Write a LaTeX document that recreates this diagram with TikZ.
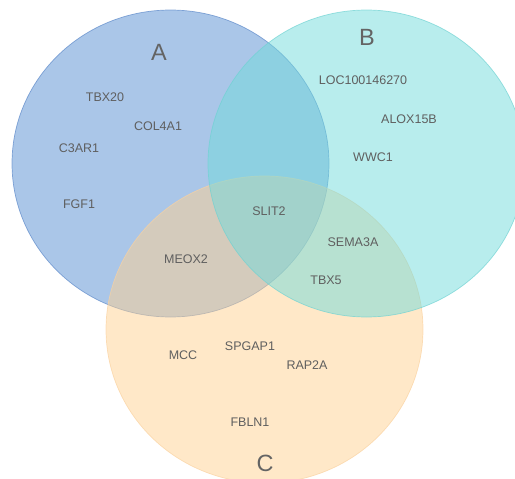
\documentclass[tikz,border=0pt]{standalone}
\usepackage{fontspec}
\setmainfont{Liberation Sans}
\definecolor{cA}{RGB}{85,141,209}
\definecolor{cB}{RGB}{113,219,219}
\definecolor{cC}{RGB}{255,209,145}
\definecolor{bA}{RGB}{90,135,200}
\definecolor{bB}{RGB}{110,210,210}
\definecolor{bC}{RGB}{250,210,160}
\definecolor{txt}{RGB}{95,95,95}
\definecolor{lbl}{RGB}{100,100,100}
\begin{document}
\begin{tikzpicture}[x=1pt,y=-1pt,
  gene/.style={text=txt, font=\fontsize{12.5}{14}\selectfont, inner sep=0pt},
  setlbl/.style={text=lbl, font=\fontsize{23.5}{26}\selectfont, inner sep=0pt},
  setfill/.style={fill=#1, fill opacity=0.5},
  setedge/.style={draw=#1, line width=0.7pt, draw opacity=0.7}]
\useasboundingbox (0,0) rectangle (515,479);
\begin{scope}
\clip (0,0) rectangle (515,479);
\fill[setfill=cA] (170.5,163.5) ellipse [x radius=158.5pt, y radius=153.5pt];
\draw[setedge=bA] (170.5,163.5) ellipse [x radius=158.5pt, y radius=153.5pt];
\fill[setfill=cC] (264.5,329.5) ellipse [x radius=158.5pt, y radius=153.5pt];
\draw[setedge=bC] (264.5,329.5) ellipse [x radius=158.5pt, y radius=153.5pt];
\fill[setfill=cB] (366.5,163.5) ellipse [x radius=158.5pt, y radius=153.5pt];
\draw[setedge=bB] (366.5,163.5) ellipse [x radius=158.5pt, y radius=153.5pt];
\end{scope}
\node[setlbl] (la) at (159,52) {A};
\node[setlbl] (lb) at (367,37) {B};
\node[setlbl] (lc) at (265,463) {C};
\node[gene] (tbx20) at (105,97) {TBX20};
\node[gene] (col4a1) at (158,126) {COL4A1};
\node[gene] (c3ar1) at (79,148) {C3AR1};
\node[gene] (fgf1) at (79,204) {FGF1};
\node[gene] (loc) at (363,80) {LOC100146270};
\node[gene] (alox) at (409,119) {ALOX15B};
\node[gene] (wwc1) at (373,157) {WWC1};
\node[gene] (slit2) at (269,211) {SLIT2};
\node[gene] (sema) at (353,242) {SEMA3A};
\node[gene] (meox2) at (186,259) {MEOX2};
\node[gene] (tbx5) at (326,280) {TBX5};
\node[gene] (mcc) at (183,355) {MCC};
\node[gene] (spgap) at (250,346) {SPGAP1};
\node[gene] (rap2a) at (307,365) {RAP2A};
\node[gene] (fbln1) at (250,422) {FBLN1};
\end{tikzpicture}
\end{document}
